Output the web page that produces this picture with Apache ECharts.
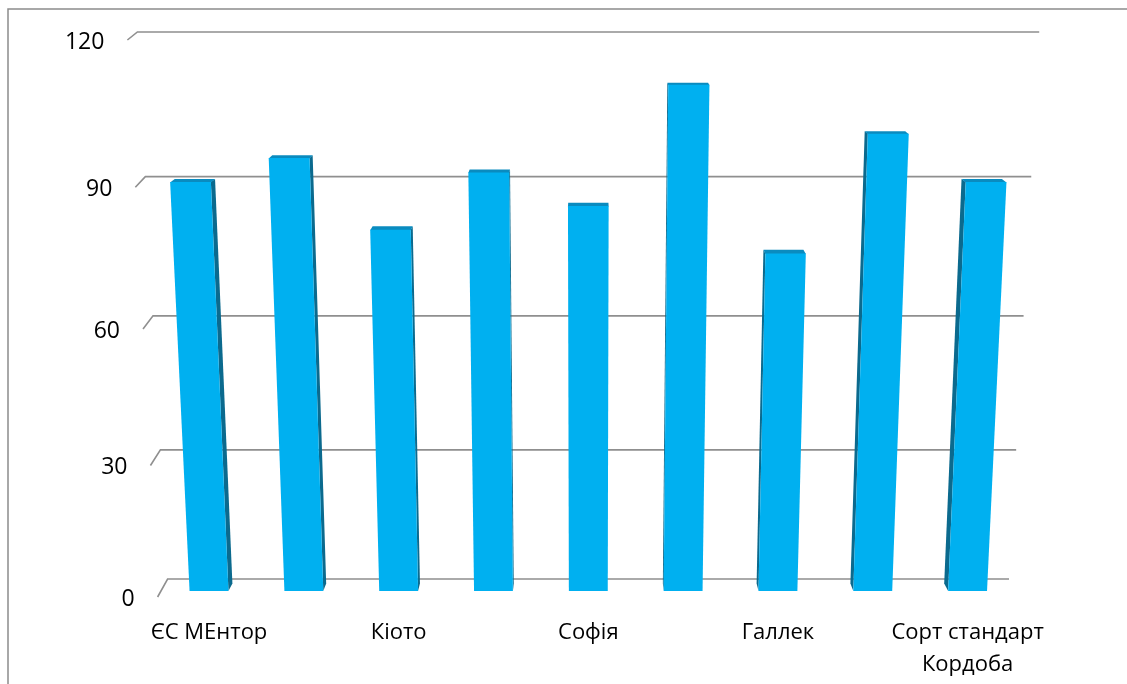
<!DOCTYPE html>
<html><head><meta charset="utf-8">
<script src="https://cdn.jsdelivr.net/npm/echarts@6/dist/echarts.min.js"></script>
<style>html,body{margin:0;padding:0;background:#fff}#c{width:1127px;height:684px}</style>
</head><body><div id="c"></div>
<script>
const categories = ['ЄС МЕнтор', '', 'Кіото', '', 'Софія', '', 'Галлек', '', 'Сорт стандарт Кордоба'];
const values = [90, 95, 80, 92, 85, 110, 75, 100, 90];
const yTicks = [0, 30, 60, 90, 120];
const yMax = 120;

const K = 0.927;
function persp(t) { return t * K / (1 + (K - 1) * t); }

function frame(api) {
  const p0 = api.coord([0, 0]);
  const pTop = api.coord([0, yMax]);
  const pc = api.coord([(categories.length - 1) / 2, 0]);
  const band = api.size([1, 0])[0];
  return { y0: p0[1], H: p0[1] - pTop[1], C: pc[0], W: band * categories.length, band: band };
}

function renderBar(params, api) {
  const f = frame(api);
  const idx = api.value(0), v = api.value(1);
  const pb = api.coord([idx, 0]);
  const pl = api.coord([idx, v]);
  const t = (f.y0 - pl[1]) / f.H;
  const yt = f.y0 - f.H * persp(t);
  const yb = f.y0;
  const bw = f.band * 0.41;
  const s = 1 / (1 - 0.062 * t);
  const xlb = pb[0] - bw / 2, xrb = pb[0] + bw / 2;
  const xlt = f.C + (xlb - f.C) * s, xrt = f.C + (xrb - f.C) * s;
  const VY = -90, D = 0.011;
  const back = (x, y) => [f.C + (x - f.C) * (1 - D), VY + (y - VY) * (1 - D)];
  const children = [];
  if (Math.abs(pb[0] - f.C) > 5) {
    const left = pb[0] > f.C;
    const xb = left ? xlb : xrb, xt = left ? xlt : xrt;
    children.push({ type: 'polygon', shape: { points: [[xb, yb], [xt, yt], back(xt, yt), back(xb, yb)] },
      style: { fill: '#0b6a8e' } });
  }
  children.push({ type: 'polygon', shape: { points: [[xlt, yt + 0.5], [xrt, yt + 0.5], back(xrt, yt), back(xlt, yt)] },
    style: { fill: '#0a8bbf' } });
  children.push({ type: 'polygon', shape: { points: [[xlb, yb], [xrb, yb], [xrt, yt], [xlt, yt]] },
    style: { fill: '#00b0f0' } });
  return { type: 'group', children };
}

function renderGrid(params, api) {
  const f = frame(api);
  const v = api.value(1);
  const pl = api.coord([0, v]);
  const t = (f.y0 - pl[1]) / f.H;
  const g = persp(t);
  const y = f.y0 - 12 - (f.H - 9) * g;
  const half = (f.W / 2 - 6) / (1 - 0.067 * t);
  const xl = f.C - half, xr = f.C + half;
  const dy = 18 - 10 * g;
  return { type: 'group', children: [
    { type: 'polyline', shape: { points: [[xl - 10, y + dy], [xl, y], [xr, y]] },
      style: { fill: null, stroke: '#8f8f8f', lineWidth: 1.6 } },
    { type: 'text', style: { text: String(v), x: xl - 33, y: y + dy + 2, align: 'right', verticalAlign: 'middle',
      fill: '#000', font: '23px "Open Sans", "Noto Sans", sans-serif' } }
  ] };
}

const chart = echarts.init(document.getElementById('c'));
chart.setOption({
  animation: false,
  backgroundColor: '#fff',
  graphic: [{ type: 'rect', shape: { x: 8, y: 9, width: 1400, height: 1000 },
    style: { fill: 'none', stroke: '#8c8c8c', lineWidth: 1.5 }, z: 0 }],
  grid: { left: 161.6, right: 112, top: 35, bottom: 93, outerBoundsMode: 'none' },
  xAxis: {
    type: 'category', data: categories,
    axisLine: { show: false }, axisTick: { show: false },
    axisLabel: { interval: 0, margin: 26, color: '#000', fontSize: 22, lineHeight: 32,
      fontFamily: '"Open Sans", "Noto Sans", sans-serif',
      formatter: (v) => v.length > 15 ? v.replace(/ (\S+)$/, '\n$1') : v }
  },
  yAxis: { type: 'value', min: 0, max: yMax, interval: 30, show: false, splitLine: { show: false } },
  series: [
    { type: 'custom', z: 1, renderItem: renderGrid, data: yTicks.map(v => [0, v]), silent: true },
    { type: 'custom', z: 2, renderItem: renderBar, data: values.map((v, i) => [i, v]) }
  ]
});
</script>
</body></html>
